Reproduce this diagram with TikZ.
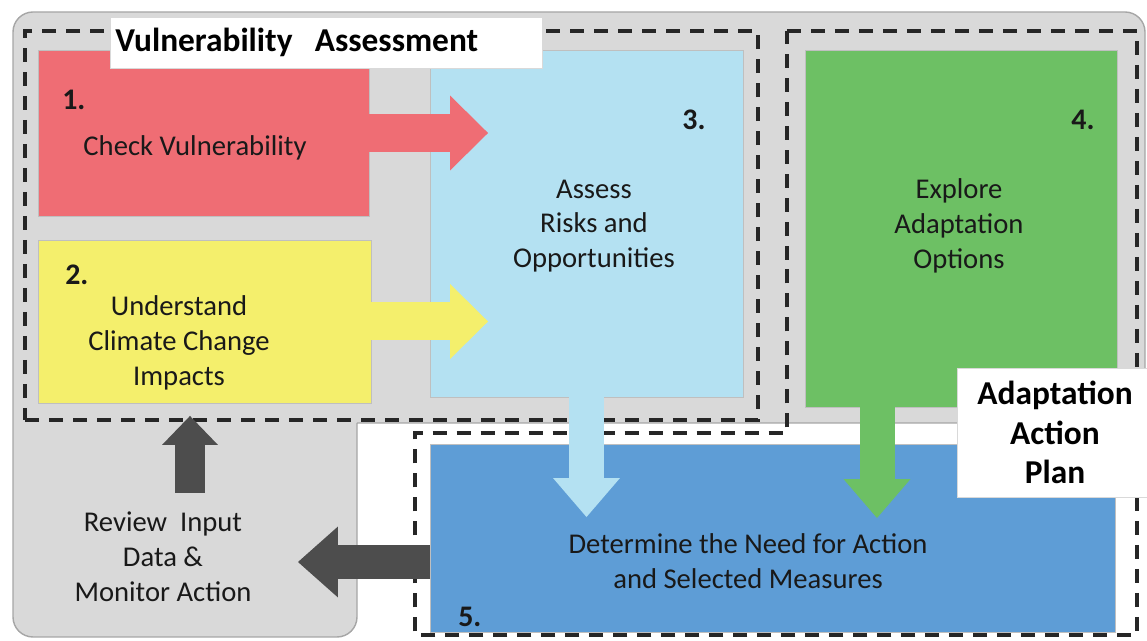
\documentclass[tikz,border=0pt]{standalone}
\usepackage{fontspec}
\setmainfont{Carlito}
\usetikzlibrary{arrows.meta,calc}

\definecolor{vulred}{HTML}{EF6D74}
\definecolor{climyellow}{HTML}{F4EF6C}
\definecolor{riskblue}{HTML}{B4E1F2}
\definecolor{optgreen}{HTML}{6DC064}
\definecolor{needblue}{HTML}{5E9DD6}
\definecolor{panelgray}{HTML}{D9D9D9}
\definecolor{arrowgray}{HTML}{4D4D4D}

\tikzset{%
  % Specifications for style of nodes:
        box/.style = {rectangle, inner sep=0pt, outer sep=0pt,
                      draw=black!25, line width=0.5pt},
        txt/.style = {align=center, inner sep=0pt, text=black!90,
                      font=\fontsize{16.3}{19.8}\selectfont},
        num/.style = {inner sep=0pt, anchor=west, text=black!90,
                      font=\fontsize{17}{20}\selectfont\bfseries},
    caption/.style = {rectangle, fill=white, draw=black!15, inner xsep=0.1cm,
                      font=\fontsize{19}{22.7}\selectfont\bfseries},
      frame/.style = {draw=black!85, line width=1.9pt,
                      dash pattern=on 0.28cm off 0.2cm},
  % fat block arrows between the steps
   fatarrow/.style = {line width=0.76cm,
                      -{Triangle[length=0.76cm, width=1.5cm, line width=0pt]}},
  downarrow/.style = {line width=0.7cm,
                      -{Triangle[length=0.78cm, width=1.34cm, line width=0pt]}},
  backarrow/.style = {arrowgray, line width=0.7cm,
                      -{Triangle[length=0.8cm, width=1.42cm, line width=0pt]}},
    uparrow/.style = {arrowgray, line width=0.6cm,
                      -{Triangle[length=0.58cm, width=1.12cm, line width=0pt]}},
}

\begin{document}
\begin{tikzpicture}[x=0.02cm, y=-0.02cm]
  \useasboundingbox (0,0) rectangle (1147,641);

  % grey panel (open path, so the inner corner stays sharp)
  \filldraw[fill=panelgray, draw=black!35, line width=0.8pt, rounded corners=0.4cm]
    (357,423) -- (1145,423) -- (1145,12) -- (13,12) -- (13,637) -- (357,637) -- (357,423);

  % dashed groups
  \node (vaframe) [frame, inner sep=0pt, outer sep=0pt,
    minimum width=14.66cm, minimum height=7.78cm] at (391.5,225.5) {};
  \draw[frame] (787,31) -- (1137,31) -- (1137,635) -- (415,635)
    -- (415,433) -- (787,433) -- cycle;

  % Specification of nodes (position, etc.)
  \node (check)   [box, fill=vulred,     minimum width=6.62cm, minimum height=3.32cm] at (203.5,133) {};
  \node (impact)  [box, fill=climyellow, minimum width=6.66cm, minimum height=3.26cm] at (204.5,321.5) {};
  \node (assess)  [box, fill=riskblue,   minimum width=6.26cm, minimum height=6.94cm] at (586.5,223.5) {};
  \node (explore) [box, fill=optgreen,   minimum width=6.24cm, minimum height=7.14cm] at (961,228.5) {};
  \node (need)    [box, fill=needblue,   minimum width=13.7cm, minimum height=3.76cm] at (772.5,538) {};

  \node (n1) [num] at (62,100)   {1.};
  \node (n2) [num] at (65,275)   {2.};
  \node (n3) [num] at (682,120)  {3.};
  \node (n4) [num] at (1071,120) {4.};
  \node (n5) [num] at (458,617)  {5.};

  \node (checktxt)   [txt] at (195,148) {Check Vulnerability};
  \node (impacttxt)  [txt] at (179,343) {Understand\\Climate Change\\Impacts};
  \node (assesstxt)  [txt] at (594,226) {Assess\\Risks and\\Opportunities};
  \node (exploretxt) [txt] at (959,226) {Explore\\Adaptation\\Options};
  \node (needtxt)    [txt] at (748,561) {Determine the Need for Action\\and Selected Measures};
  \node (review)     [txt] at (163,557) {Review\ \ Input\\Data \&\\Monitor Action};

  \coordinate (back)  at (298,562);
  \coordinate (again) at (190,493);

  % Specification of lines between nodes specified above
  \draw[fatarrow, vulred]     (check.east)  -- ($(check.east -| assess.west)+(58,0)$);
  \draw[fatarrow, climyellow] (impact.east) -- ($(impact.east -| assess.west)+(58,0)$);
  \draw[downarrow, riskblue]  (assess.south) -- ($(assess.south |- need.north)+(0,73)$);
  \draw[downarrow, optgreen]  ($(explore.south)+(-84,0)$) -- ($(explore.south |- need.north)+(-84,74)$);
  \draw[backarrow]            (need.west |- back) -- (back);
  \draw[uparrow]              (again) -- ($(again |- vaframe.south)+(0,-4)$);

  % group captions
  \node (valabel) [caption, anchor=north west, text width=8.44cm, align=left,
    minimum height=1.02cm] at (110,17) {Vulnerability\ \ Assessment};
  \node (aaplabel) [caption, align=center, minimum width=3.92cm,
    minimum height=2.58cm] at (1055,432.5) {Adaptation\\Action\\Plan};
\end{tikzpicture}
\end{document}
